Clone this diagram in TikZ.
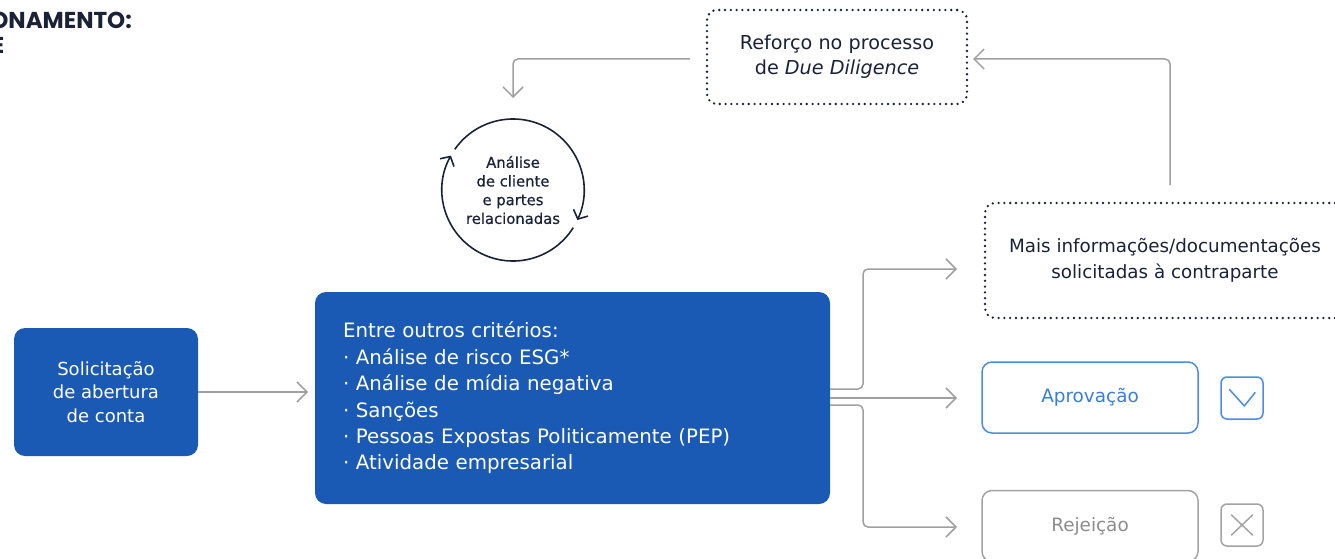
\documentclass[tikz,border=0pt]{standalone}
\usepackage{fontspec}
\setmainfont{DejaVu Sans}
\newfontfamily\titlefont{Poppins}
\newfontfamily\circfont{DejaVu Sans}[FakeBold=0.6]
\usetikzlibrary{arrows.meta}
\definecolor{bluefill}{HTML}{1B5AB4}
\definecolor{navy}{HTML}{1A2238}
\definecolor{arrowgray}{HTML}{A0A0A0}
\definecolor{lightblue}{HTML}{4A8CE6}
\definecolor{bluetext}{HTML}{3A7DDC}
\definecolor{boxgray}{HTML}{A3A3A3}
\definecolor{textgray}{HTML}{8C8C8C}
\tikzset{
  bluebox/.style={rounded corners=11pt, fill=bluefill, text=white, inner sep=0pt},
  dotbox/.style={draw=navy, line width=2.6pt, dash pattern=on 0pt off 5.8pt, line cap=round,
    rounded corners=10pt, align=center, text=navy, inner sep=0pt},
  outbox/.style={draw, line width=1.5pt, rounded corners=10pt, minimum width=216pt, minimum height=71pt, inner sep=0pt,
    font=\fontsize{18.4}{22}\selectfont},
  iconbox/.style={draw, line width=1.5pt, rounded corners=6pt, minimum size=42pt, inner sep=0pt},
  conn/.style={draw=arrowgray, line width=1.5pt, rounded corners=5pt, -{Straight Barb[length=10pt,width=20pt]}},
  cyc/.style={draw=navy, line width=1.6pt, -{Straight Barb[length=7pt,width=16pt]}},
}
\begin{document}
\begin{tikzpicture}[x=1pt,y=-1pt]
\useasboundingbox (0,0) rectangle (1335,559);
\clip (0,0) rectangle (1335,559);

% cut-off title (cut by the edge in the reference too)
\node[anchor=base east, inner sep=0pt, text=navy, font=\titlefont\bfseries\fontsize{23}{26}\selectfont] (title) at (132,28.5) {ONAMENTO:};
\node[anchor=base east, inner sep=0pt, text=navy, font=\titlefont\bfseries\fontsize{23}{26}\selectfont] (title2) at (4.5,53.5) {E};

% boxes
\node[bluebox, minimum width=184pt, minimum height=128pt, align=center,
  font=\fontsize{18}{23.5}\selectfont] (s) at (106,392) {Solicitação\\de abertura\\de conta};
\node[bluebox, minimum width=515pt, minimum height=212pt, align=left, text width=459pt,
  font=\fontsize{19.8}{26.4}\selectfont] (m) at (572.5,398)
  {Entre outros critérios:\\· Análise de risco ESG*\\· Análise de mídia negativa\\· Sanções\\· Pessoas Expostas Politicamente (PEP)\\· Atividade empresarial};

\node[dotbox, minimum width=260pt, minimum height=94pt, font=\fontsize{19.2}{25}\selectfont] (r) at (837,57)
  {Reforço no processo\\de \textit{Due Diligence}};
\node[dotbox, minimum width=360pt, minimum height=115pt, font=\fontsize{18.3}{26}\selectfont] (mais) at (1165,260.5)
  {Mais informações/documentações\\solicitadas à contraparte};

\node[outbox, draw=lightblue, text=bluetext] (ap) at (1090,397.5) {Aprovação};
\node[outbox, draw=boxgray, text=textgray] (rj) at (1090,526) {Rejeição};

\node[iconbox, draw=lightblue] (chk) at (1242,398) {};
\draw[lightblue, line width=1.5pt, line cap=round, line join=round]
  ([shift={(-12.7,-8.7)}]chk.center) -- ([shift={(2.3,8)}]chk.center) -- ([shift={(13,-5.3)}]chk.center);
\node[iconbox, draw=boxgray] (xx) at (1242,525) {};
\draw[boxgray, line width=1.5pt, line cap=round]
  ([shift={(-10.5,-10)}]xx.center) -- ([shift={(10.5,10)}]xx.center);
\draw[boxgray, line width=1.5pt, line cap=round]
  ([shift={(10.5,-10)}]xx.center) -- ([shift={(-10.5,10)}]xx.center);

% cycle
\node[circle, minimum size=142pt, inner sep=0pt, align=center, text=navy,
  font=\circfont\fontsize{14.8}{18.7}\selectfont] (c) at (513,190) {Análise\\de cliente\\e partes\\relacionadas};
\draw[cyc] ([shift={(-145:71)}]c.center) arc[start angle=-145, end angle=25, radius=71];
\draw[cyc] ([shift={(32:71)}]c.center) arc[start angle=32, end angle=209, radius=71];

% connector coordinates
\coordinate (t0) at (308,392);
\coordinate (t1) at (957,269);
\coordinate (t2) at (957,398);
\coordinate (t3) at (957,527);
\coordinate (a0) at (1170,185);
\coordinate (a1) at (973,59);
\coordinate (b0) at (690,59);
\coordinate (b1) at (513,98);

\draw[conn] (s.east) -- (t0);
\draw[conn] ([yshift=9pt]m.east) -- (863,389) -- (863,269) -- (t1);
\draw[conn] (m.east) -- (t2);
\draw[conn] ([yshift=-7pt]m.east) -- (863,405) -- (863,527) -- (t3);
\draw[conn] (a0) -- (1170,59) -- (a1);
\draw[conn] (b0) -- (513,59) -- (b1);
\end{tikzpicture}
\end{document}
